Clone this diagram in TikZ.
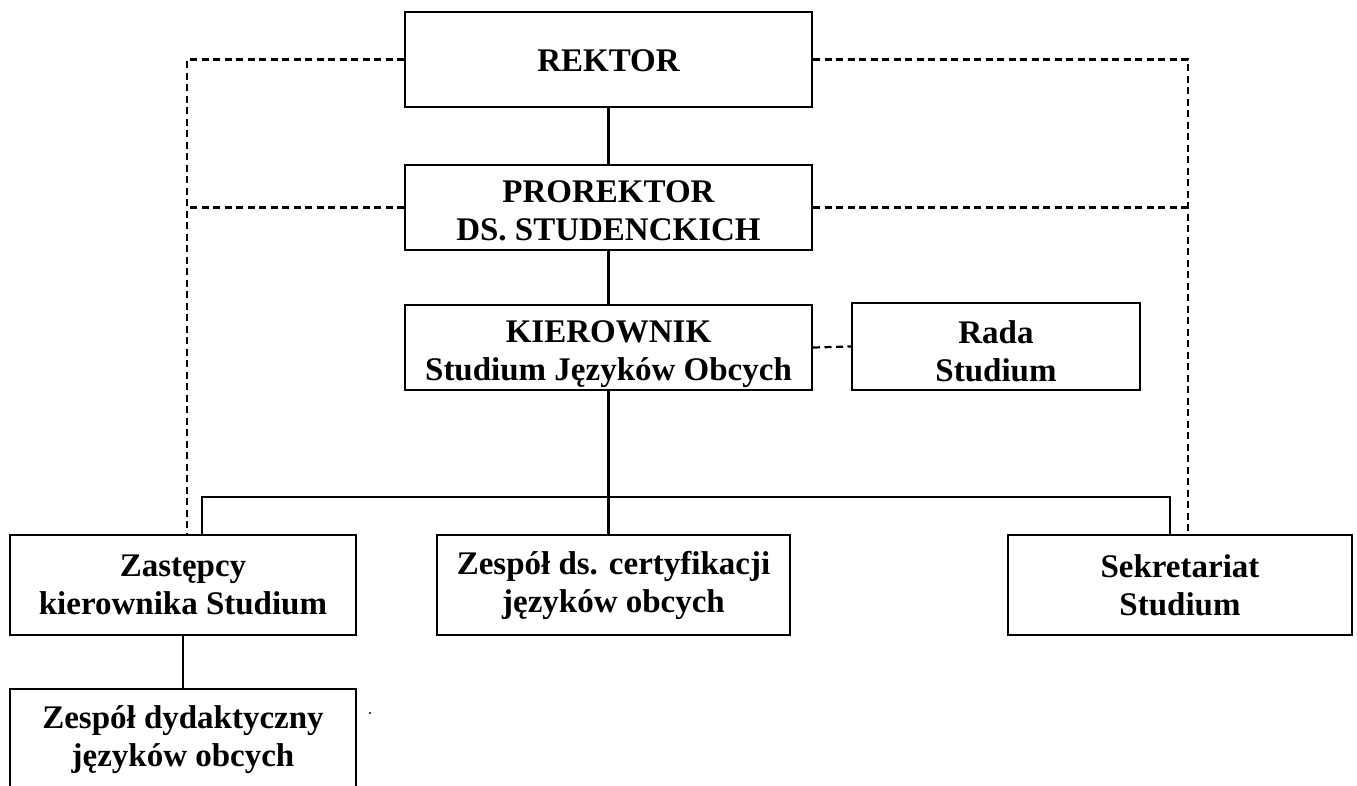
\documentclass[tikz,border=0pt]{standalone}
\usepackage{fontspec}
\setmainfont{Liberation Serif}
\begin{document}
\begin{tikzpicture}[x=1pt,y=-1pt,
  box/.style={draw,line width=2pt,rectangle,inner sep=0pt},
  txt/.style={inner sep=0pt,align=center,font=\fontsize{33}{38}\selectfont\bfseries},
  conn/.style={line width=2.2pt},
  dconn/.style={line width=2.2pt,dash pattern=on 7pt off 4.5pt}]
\useasboundingbox (0,0) rectangle (1357,785);
\clip (0,0) rectangle (1357,785);
% boxes
\node[box,minimum width=407pt,minimum height=95pt] (rektor) at (608.5,59.5) {};
\node[box,minimum width=407pt,minimum height=85pt] (prorektor) at (608.5,207.5) {};
\node[box,minimum width=407pt,minimum height=85pt] (kier) at (608.5,347.5) {};
\node[box,minimum width=288pt,minimum height=87pt] (rada) at (996,346.5) {};
\node[box,minimum width=346pt,minimum height=100pt] (zast) at (183,585) {};
\node[box,minimum width=353pt,minimum height=100pt] (cert) at (613.5,585) {};
\node[box,minimum width=344pt,minimum height=100pt] (sekr) at (1180,585) {};
\node[box,minimum width=346pt,minimum height=112pt,anchor=north] (dyd) at (183,688) {};
% texts
\node[txt] (rektort) at ([yshift=-1pt]rektor.center) {REKTOR};
\node[txt] (prorektort) at ([yshift=-3pt]prorektor.center) {PROREKTOR\\DS. STUDENCKICH};
\node[txt] (kiert) at ([yshift=-7pt]kier.center) {KIEROWNIK\\Studium Języków Obcych};
\node[txt] (radat) at ([yshift=-5pt]rada.center) {Rada\\Studium};
\node[txt] (zastt) at (zast.center) {Zastępcy\\kierownika Studium};
\node[txt] (certt) at (cert.center) {Zespół ds. certyfikacji\\języków obcych};
\node[txt] (sekrt) at (sekr.center) {Sekretariat\\Studium};
\node[txt] (dydt) at ([yshift=5pt]dyd.center) {Zespół dydaktyczny\\języków obcych};
\coordinate (bl) at (202,497);
\coordinate (br) at (1170,497);
\coordinate (dl) at (187,0);
\coordinate (dr) at (1188,0);
% solid connectors
\draw[conn] (rektor.south) -- (prorektor.north);
\draw[conn] (prorektor.south) -- (kier.north);
\draw[conn] (kier.south) -- (kier.south |- cert.north);
\draw[conn] (zast.north -| bl) -- (bl) -- (br) -- (sekr.north -| br);
\draw[conn] (zast.south) -- (dyd.north);
% dashed connectors
\draw[dconn] (rektor.west) -| (zast.north -| dl);
\draw[dconn] (prorektor.west) -- (prorektor.west -| dl);
\draw[dconn] (rektor.east) -| (sekr.north -| dr);
\draw[dconn] (prorektor.east) -- (prorektor.east -| dr);
\draw[dconn] (kier.east) -- (rada.west);
\fill (370,713) circle (1.2pt);
\end{tikzpicture}
\end{document}
